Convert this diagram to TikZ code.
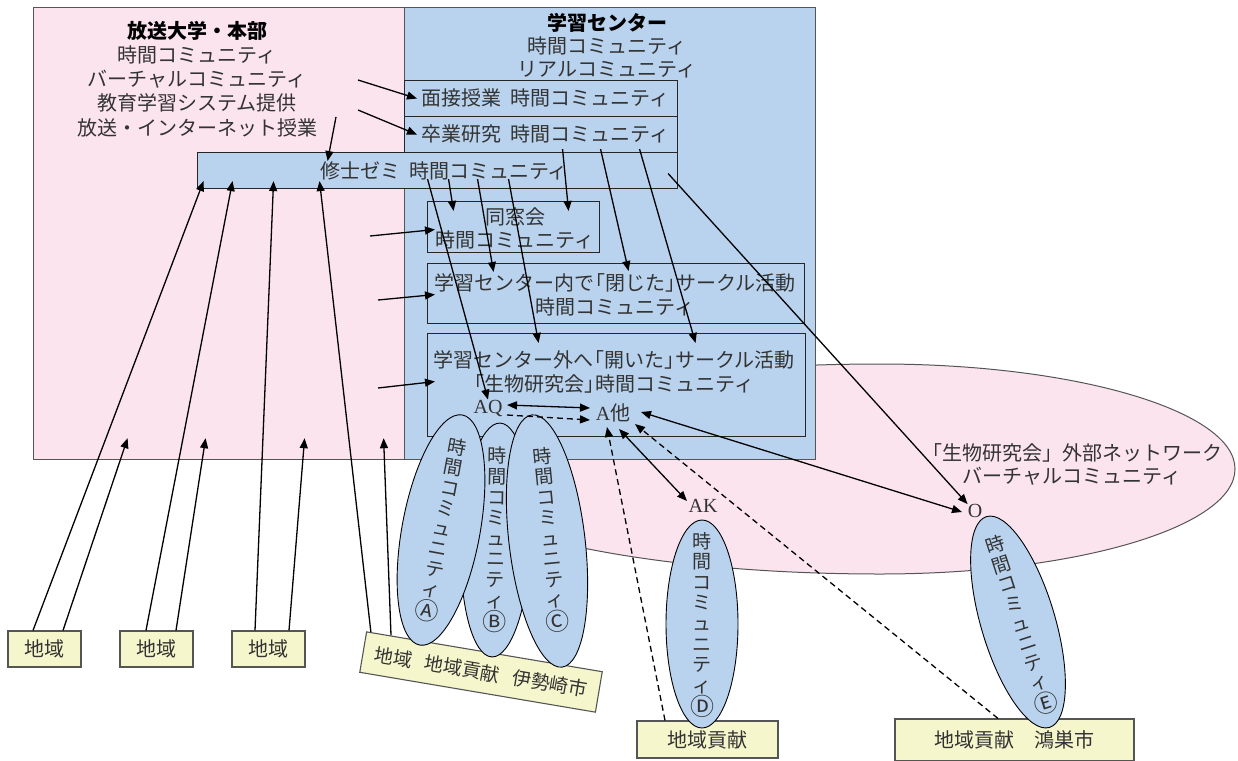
\documentclass[tikz,border=0pt]{standalone}
\usepackage{fontspec}
\setmainfont{Noto Sans CJK JP}
\newfontfamily\latn{Liberation Serif}
\usetikzlibrary{shapes.geometric,arrows.meta,calc}
\definecolor{pinkc}{HTML}{FBE4EE}
\definecolor{bluec}{HTML}{B9D3EE}
\definecolor{yellowc}{HTML}{F6F6CC}
\definecolor{txt}{HTML}{333333}
\definecolor{edge}{HTML}{555555}
\newcommand{\jlb}{\makebox[11pt][r]{「}}
\newcommand{\jrb}{\makebox[11pt][l]{」}}
\newcommand{\cirl}[1]{\raisebox{-3pt}{\fontsize{24}{20}\selectfont #1}}
\begin{document}
\begin{tikzpicture}[x=1pt,y=-1pt,
  every node/.style={text=txt, font=\fontsize{20}{24}\selectfont},
  lbl/.style={inner sep=0pt},
  bigbox/.style={draw=edge, line width=1.2pt, inner sep=0pt, anchor=north west},
  inbox/.style={draw=black!85, line width=1.1pt, fill=bluec, inner sep=0pt, anchor=north west},
  ybox/.style={draw=edge, line width=1.1pt, fill=yellowc, inner sep=0pt},
  bell/.style={ellipse, draw=black, line width=0.9pt, fill=bluec, inner sep=0pt},
  vtext/.style={align=center, font=\fontsize{19}{20.6}\selectfont, inner sep=0pt},
  arr/.style={line width=1.3pt, -{Triangle[length=10pt,width=8pt]}},
  darr/.style={line width=1.3pt, {Triangle[length=10pt,width=8pt]}-{Triangle[length=10pt,width=8pt]}},
  dsh/.style={line width=1.3pt, dash pattern=on 6pt off 4pt, -{Triangle[length=10pt,width=8pt]}},
]
\useasboundingbox (0,0) rectangle (1238,760);

% external network ellipse
\path[draw=edge, line width=1pt, fill=pinkc] (1235,469) .. controls (1235,411) and (1076,364) .. (880,364) .. controls (631,364) and (430,411) .. (430,469) .. controls (430,527) and (631,574) .. (880,574) .. controls (1076,574) and (1235,527) .. cycle;

% main areas
\node[bigbox, fill=pinkc, minimum width=372pt, minimum height=452pt] (honbu) at (33,7) {};
\node[bigbox, fill=bluec, minimum width=411pt, minimum height=452pt] (gc) at (404,7) {};

\node[lbl, align=center, font=\fontsize{20}{24.2}\selectfont] (honbuT) at (197,79) {\textcolor{black}{\bfseries 放送大学・本部}\\時間コミュニティ\\バーチャルコミュニティ\\教育学習システム提供\\放送・インターネット授業};
\node[lbl, align=center, font=\fontsize{20}{23}\selectfont] (gcT) at (607,46) {\textcolor{black}{\bfseries 学習センター}\\時間コミュニティ\\リアルコミュニティ};

% inner boxes
\node[inbox, minimum width=273pt, minimum height=36pt] (mensetsu) at (404,80) {};
\node[inbox, minimum width=273pt, minimum height=36pt] (sotsugyo) at (404,116) {};
\node[inbox, minimum width=480pt, minimum height=36pt] (shushi) at (197,152) {};
\node[inbox, minimum width=172pt, minimum height=51pt] (dosokai) at (427,201) {};
\node[inbox, minimum width=377pt, minimum height=60pt] (closed) at (427,263) {};
\node[inbox, minimum width=378pt, minimum height=103pt] (open) at (427,333) {};

\node[lbl, anchor=west] (mensetsuT) at (421,98) {面接授業\hspace{9pt}時間コミュニティ};
\node[lbl, anchor=west] (sotsugyoT) at (421,134) {卒業研究\hspace{9pt}時間コミュニティ};
\node[lbl] (shushiT) at (444,171) {修士ゼミ\hspace{9pt}時間コミュニティ};
\node[lbl, align=center, font=\fontsize{20}{23}\selectfont] (dosokaiT) at (515,228) {同窓会\\時間コミュニティ};
\node[lbl, align=center, font=\fontsize{20}{24}\selectfont] (closedT) at (615,295) {学習センター内で\jlb 閉じた\jrb サークル活動\\時間コミュニティ};
\node[lbl, align=center, font=\fontsize{20}{24}\selectfont] (openT) at (614,372) {学習センター外へ\jlb 開いた\jrb サークル活動\\\jlb 生物研究会\jrb 時間コミュニティ};

\node[lbl] (AQ) at (488,408) {\latn AQ};
\node[lbl] (Ao) at (613,413) {{\latn A}他};
\node[lbl] (AK) at (703,506) {\latn AK};
\node[lbl] (O) at (975,511) {\latn O};

\node[lbl, align=center, font=\fontsize{20}{23}\selectfont] (netT) at (1072,464) {「生物研究会」外部ネットワーク\\バーチャルコミュニティ};

% bottom boxes
\node[ybox, minimum width=73pt, minimum height=36pt] (c1) at (44.5,649) {地域};
\node[ybox, minimum width=73pt, minimum height=36pt] (c2) at (156.5,649) {地域};
\node[ybox, minimum width=73pt, minimum height=36pt] (c3) at (268.5,649) {地域};
\node[ybox, minimum width=239pt, minimum height=41pt, rotate=-9.6, font=\fontsize{19}{22}\selectfont] (ise) at (481,672) {地域\hspace{13pt}地域貢献\hspace{13pt}伊勢崎市};
\node[ybox, minimum width=141pt, minimum height=37pt] (kouken) at (707.5,739.5) {地域貢献};
\node[ybox, minimum width=239pt, minimum height=42pt] (kounosu) at (1014.5,740) {地域貢献　鴻巣市};

% community ellipses
\node[bell, minimum width=70pt, minimum height=234pt, rotate=-2] (eB) at (496,540) {};
\node[bell, minimum width=78pt, minimum height=234pt, rotate=-10.5] (eA) at (441,530) {};
\node[bell, minimum width=76pt, minimum height=254pt, rotate=6.8] (eC) at (547,541) {};
\node[bell, minimum width=72pt, minimum height=208pt] (eD) at (702,624) {};
\node[bell, minimum width=74pt, minimum height=220pt, rotate=16.6] (eE) at (1018,622) {};

\node[vtext, rotate=-10.5] (tA) at (442,530) {時\\間\\コ\\ミ\\ュ\\ニ\\テ\\ィ\\\cirl{Ⓐ}};
\node[vtext, rotate=-1] (tB) at (496,540) {時\\間\\コ\\ミ\\ュ\\ニ\\テ\\ィ\\\cirl{Ⓑ}};
\node[vtext, rotate=5.5] (tC) at (550,540) {時\\間\\コ\\ミ\\ュ\\ニ\\テ\\ィ\\\cirl{Ⓒ}};
\node[vtext] (tD) at (702,625) {時\\間\\コ\\ミ\\ュ\\ニ\\テ\\ィ\\\cirl{Ⓓ}};
\node[vtext, rotate=18] (tE) at (1021,625) {時\\間\\コ\\ミ\\ュ\\ニ\\テ\\ィ\\\cirl{Ⓔ}};

% free ends
\coordinate (a1) at (358,80);
\coordinate (a2) at (358,110);
\coordinate (a3) at (336,117);
\coordinate (a4) at (370,236);
\coordinate (a5) at (378,300);
\coordinate (a6) at (378,388);

% arrows from headquarters
\draw[arr] (a1) -- ([xshift=13pt]mensetsu.west);
\draw[arr] (a2) -- ([xshift=13pt]sotsugyo.west);
\draw[arr] (a3) -- ([xshift=-110pt,yshift=-9pt]shushi.north);
\draw[arr] (a4) -- ([xshift=8pt,yshift=-2.5pt]dosokai.west);
\draw[arr] (a5) -- ([xshift=8pt,yshift=-1pt]closed.west);
\draw[arr] (a6) -- ([xshift=8pt,yshift=3.5pt]open.west);

% arrows from regions
\draw[arr] ([xshift=-11.5pt]c1.north) -- ([xshift=-234pt,yshift=8pt]shushi.south);
\draw[arr] ([xshift=18.5pt]c1.north) -- ([xshift=-92pt,yshift=22pt]honbu.south);
\draw[arr] ([xshift=-10.5pt]c2.north) -- ([xshift=-205pt,yshift=8pt]shushi.south);
\draw[arr] ([xshift=19.5pt]c2.north) -- ([xshift=-14pt,yshift=22pt]honbu.south);
\draw[arr] ([xshift=-13.5pt]c3.north) -- ([xshift=-164pt,yshift=8pt]shushi.south);
\draw[arr] ([xshift=20.5pt]c3.north) -- ([xshift=85pt,yshift=22pt]honbu.south);
\draw[arr] ($(ise.north west)!0.02!(ise.north east)$) -- ([xshift=-118pt,yshift=8pt]shushi.south);
\draw[arr] ($(ise.north west)!0.105!(ise.north east)$) -- ([xshift=164pt,yshift=22pt]honbu.south);

% arrows from seminar box
\draw[arr] ([xshift=-10pt,yshift=10pt]shushi.south) -- (AQ.north);
\draw[arr] ([xshift=11pt,yshift=10pt]shushi.south) -- ([xshift=-60pt,yshift=-10pt]dosokai.north);
\draw[arr] ([xshift=40pt,yshift=10pt]shushi.south) -- ([xshift=-122.5pt,yshift=-9pt]closed.north);
\draw[arr] ([xshift=71pt,yshift=10pt]shushi.south) -- ([xshift=-78pt,yshift=-10pt]open.north);
\draw[arr] ([xshift=-10pt,yshift=-3pt]shushi.east) -- (O.north west);

% arrows from graduation research box
\draw[arr] ([xshift=21.5pt,yshift=4pt]sotsugyo.south) -- ([xshift=55pt,yshift=-10pt]dosokai.north);
\draw[arr] ([xshift=59.5pt,yshift=4pt]sotsugyo.south) -- ([xshift=12.5pt,yshift=-8pt]closed.north);
\draw[arr] ([xshift=98.5pt,yshift=4pt]sotsugyo.south) -- ([xshift=79pt,yshift=-10pt]open.north);

% network arrows
\draw[darr] ([xshift=19pt,yshift=3pt]AQ.center) -- ([xshift=-23pt,yshift=5pt]Ao.center);
\draw[dsh] ([xshift=19pt,yshift=-7pt]AQ.center) -- ([xshift=-23pt,yshift=-7pt]Ao.center);
\draw[darr] ([xshift=6pt,yshift=-16pt]Ao.center) -- ([xshift=-16pt,yshift=5pt]AK.center);
\draw[darr] ([xshift=28pt,yshift=1pt]Ao.center) -- ([xshift=-13pt,yshift=-1pt]O.center);
\draw[dsh] ([xshift=-42.5pt]kouken.north) -- ([xshift=-6pt,yshift=-14pt]Ao.center);
\draw[dsh] ([xshift=-16.5pt]kounosu.north) -- ([xshift=22pt,yshift=-11pt]Ao.center);
\end{tikzpicture}
\end{document}
